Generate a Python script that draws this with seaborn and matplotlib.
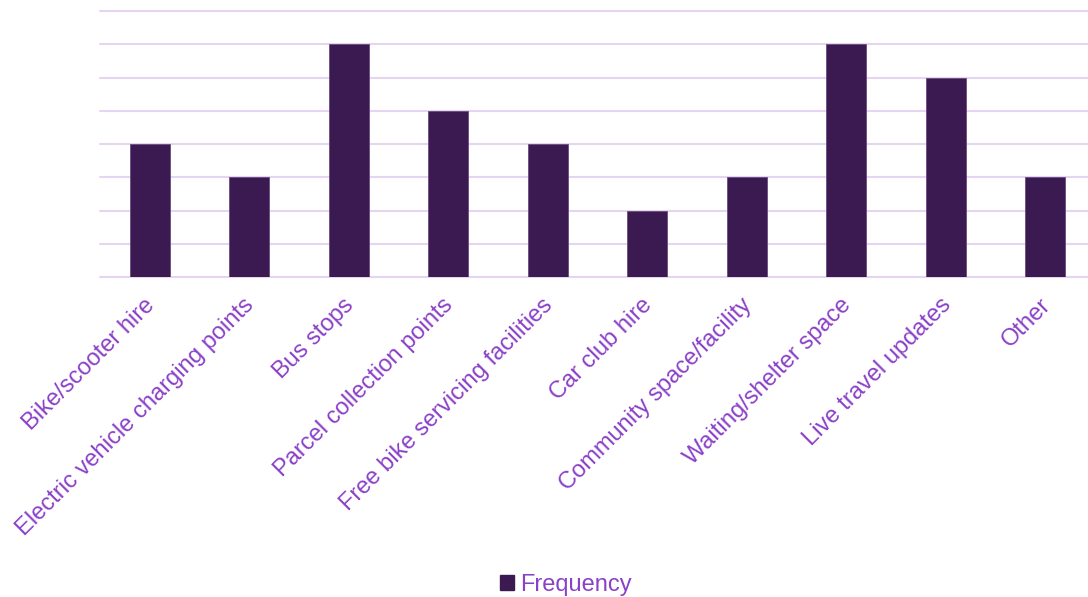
import matplotlib
matplotlib.use("Agg")
import matplotlib.pyplot as plt
import matplotlib.transforms as mtransforms
import seaborn as sns
import pandas as pd
from matplotlib.patches import Patch

categories = ["Bike/scooter hire", "Electric vehicle charging points", "Bus stops",
              "Parcel collection points", "Free bike servicing facilities", "Car club hire",
              "Community space/facility", "Waiting/shelter space", "Live travel updates", "Other"]
frequency = [4, 3, 7, 5, 4, 2, 3, 7, 6, 3]

sns.set_theme(style="white")
plt.rcParams['font.family'] = ['Liberation Sans', 'DejaVu Sans']

bar_color = "#3B1A52"
text_color = "#8A40C8"
grid_color = "#E5D5F2"

df = pd.DataFrame({"Category": categories, "Frequency": frequency})

fig = plt.figure(figsize=(10.88, 5.97), dpi=100)
ax = fig.add_axes([100/1088, 1 - 277/597, (1095 - 100)/1088, (277 - 11)/597])
sns.barplot(data=df, x="Category", y="Frequency", color=bar_color, width=0.4,
            edgecolor="#6A4A80", linewidth=0.6, ax=ax, saturation=1, zorder=3)
ax.set_ylim(0, 8)
ax.set_xlim(-0.5, len(categories) - 0.5)
ax.set_yticks(range(0, 9))
ax.set_yticklabels([])
ax.tick_params(axis='y', length=0)
ax.tick_params(axis='x', length=0, pad=5)
ax.yaxis.grid(True, color=grid_color, linewidth=1.5, zorder=0)
for gl in ax.get_ygridlines():
    gl.set_clip_on(False)
ax.set_axisbelow(True)
for s in ax.spines.values():
    s.set_visible(False)
ax.set_xlabel("")
ax.set_ylabel("")
ax.set_xticks(range(len(categories)))
ax.set_xticklabels(categories, rotation=45, ha='right', rotation_mode='anchor',
                   color=text_color, fontsize=17)
offset = mtransforms.ScaledTranslation(-6/100, -10/100, fig.dpi_scale_trans)
for lbl in ax.get_xticklabels():
    lbl.set_transform(lbl.get_transform() + offset)

handle = Patch(facecolor=bar_color, edgecolor=bar_color)
fig.legend([handle], ["Frequency"], loc='center', bbox_to_anchor=(566/1088, 1 - 585/597),
           frameon=False, fontsize=17, labelcolor=text_color, handlelength=0.6,
           handleheight=0.6, handletextpad=0.25)

fig.savefig("out.png", dpi=100)
